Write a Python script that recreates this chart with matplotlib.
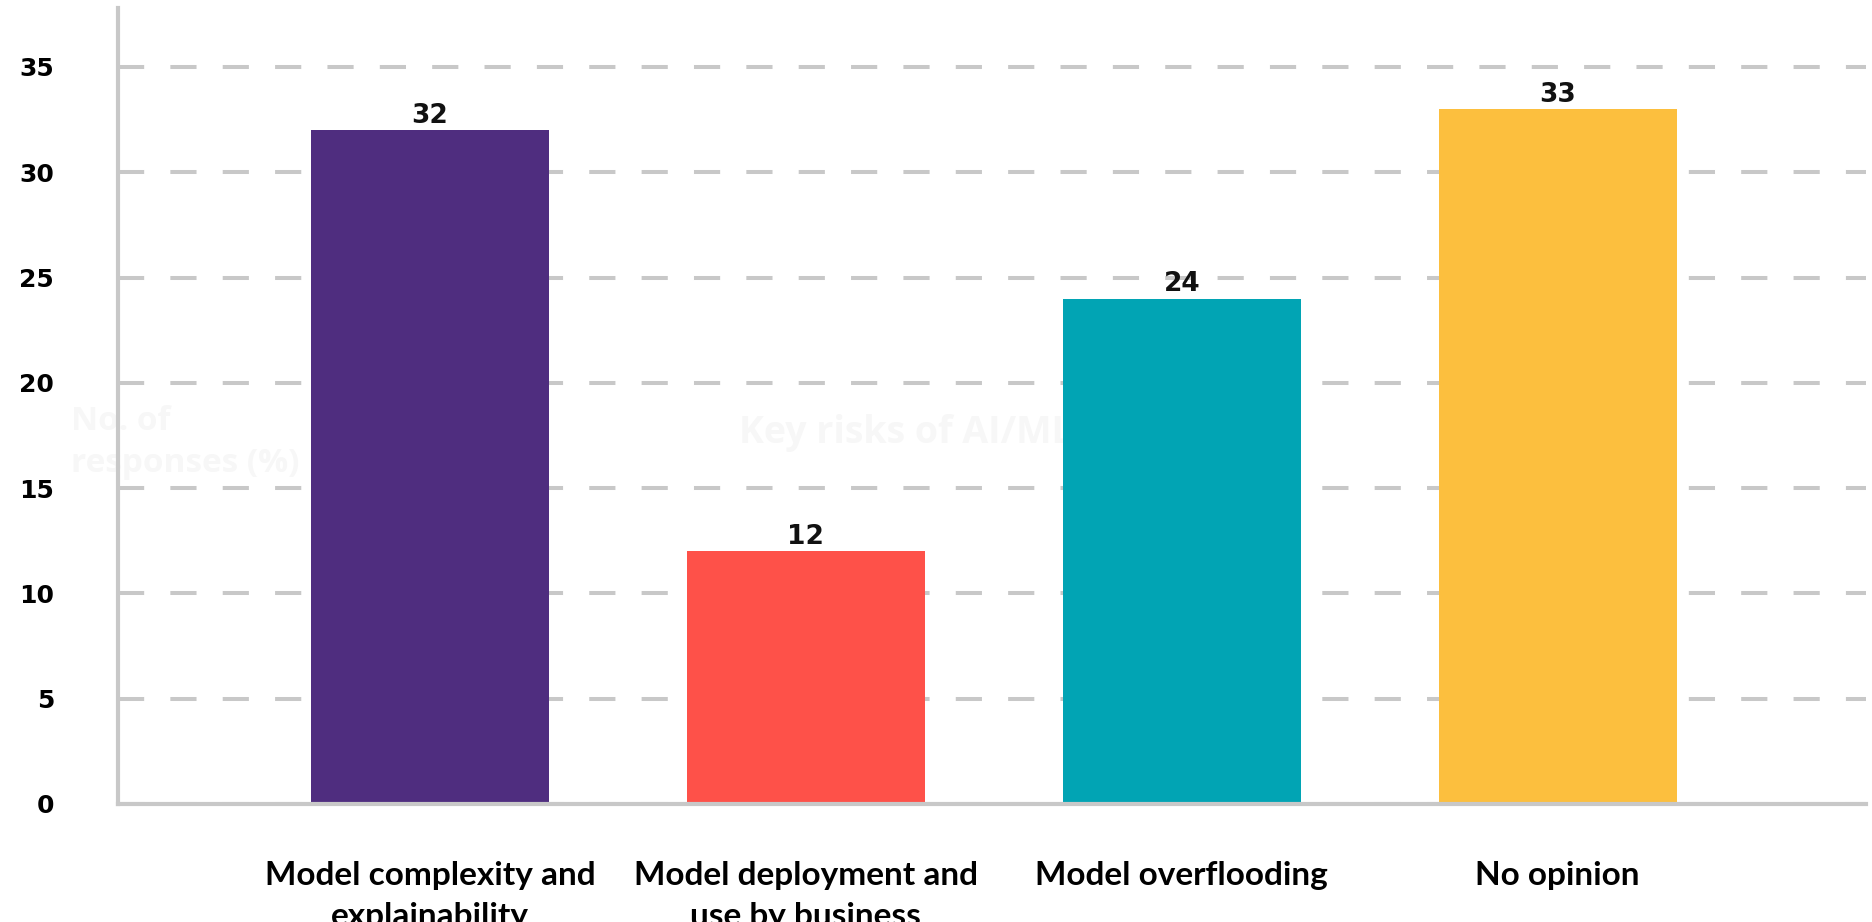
import numpy as np
import matplotlib.pyplot as plt

categories = ['Model complexity and\nexplainability', 'Model deployment and\nuse by business',
              'Model overflooding', 'No opinion']
values = [32, 12, 24, 33]
colors = ['#4F2D7F', '#FE5149', '#01A4B4', '#FCBF3E']
yticks = [0, 5, 10, 15, 20, 25, 30, 35]

fig = plt.figure(figsize=(18.72, 9.22), dpi=100)
ax = fig.add_axes([0.063, 0.128, 0.9338, 0.8633])

x = np.arange(len(categories))
bars = ax.bar(x, values, width=0.632, color=colors, zorder=3)

# value labels
for xi, v in zip(x, values):
    ax.text(xi, v + 0.35, str(v), ha='center', va='baseline', fontsize=19,
            fontweight='bold', family='DejaVu Sans', color='#111111', zorder=4)

# faint background watermark texts
ax.text(-0.955, 17.15, 'No. of\nresponses (%)', fontsize=24, fontweight='bold', family='Open Sans',
        color='#f7f7f7', va='center', ha='left', linespacing=1.35, zorder=1, clip_on=False)
ax.text(0.822, 17.6, 'Key risks of AI/ML', fontsize=27, fontweight='bold', family='Open Sans',
        color='#f7f7f7', va='center', ha='left', zorder=1)

ax.set_xlim(-0.83, 3.82)
ax.set_ylim(0, 37.8)
ax.set_yticks(yticks)
ax.set_yticklabels([str(t) for t in yticks], fontsize=18, fontweight='bold', family='DejaVu Sans')
ax.set_xticks(x)
ax.set_xticklabels(categories, fontsize=24, fontweight='bold', family='Lato', linespacing=1.5,
                   verticalalignment='top')
ax.tick_params(axis='y', length=0, pad=46)
ax.tick_params(axis='x', length=0, pad=41)

ax.yaxis.grid(True, color='#c8c8c8', linewidth=2.9, linestyle=(0, (6.5, 6.5)), zorder=0)
ax.set_axisbelow(True)

for s in ['top', 'right']:
    ax.spines[s].set_visible(False)
for s in ['left', 'bottom']:
    ax.spines[s].set_color('#c8c8c8')
    ax.spines[s].set_linewidth(3)
    ax.spines[s].set_zorder(5)

plt.savefig('out.png', dpi=100)
